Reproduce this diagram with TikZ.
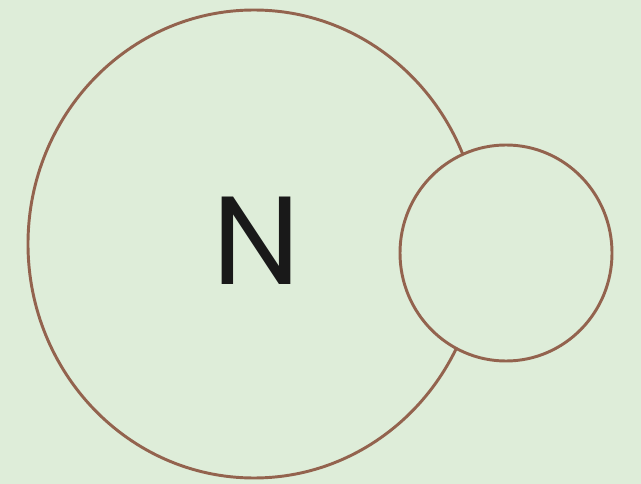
\documentclass[tikz,border=0pt]{standalone}
\usepackage{fontspec}
\setsansfont{Poppins}
\usetikzlibrary{positioning}
\definecolor{paper}{HTML}{DEEDD9}
\definecolor{shell}{HTML}{93634E}
\tikzset{
  orbit/.style  = {draw=shell, line width=2.2pt},
  symbol/.style = {font=\sffamily\fontsize{94}{94}\selectfont, text=black!90, inner sep=0pt},
}
\begin{document}
\begin{tikzpicture}[x=0.75pt, y=-0.75pt]
  \fill[paper] (0,0) rectangle (641,484);
  \useasboundingbox (0,0) rectangle (641,484);
  % big shell, then the small one sitting over its edge
  \draw[orbit] (254,244) ellipse [x radius=226, y radius=234];
  \draw[orbit, fill=paper] (506,253) ellipse [x radius=106, y radius=108];
  \node[symbol] (nitrogen) at (257,241) {N};
\end{tikzpicture}
\end{document}
